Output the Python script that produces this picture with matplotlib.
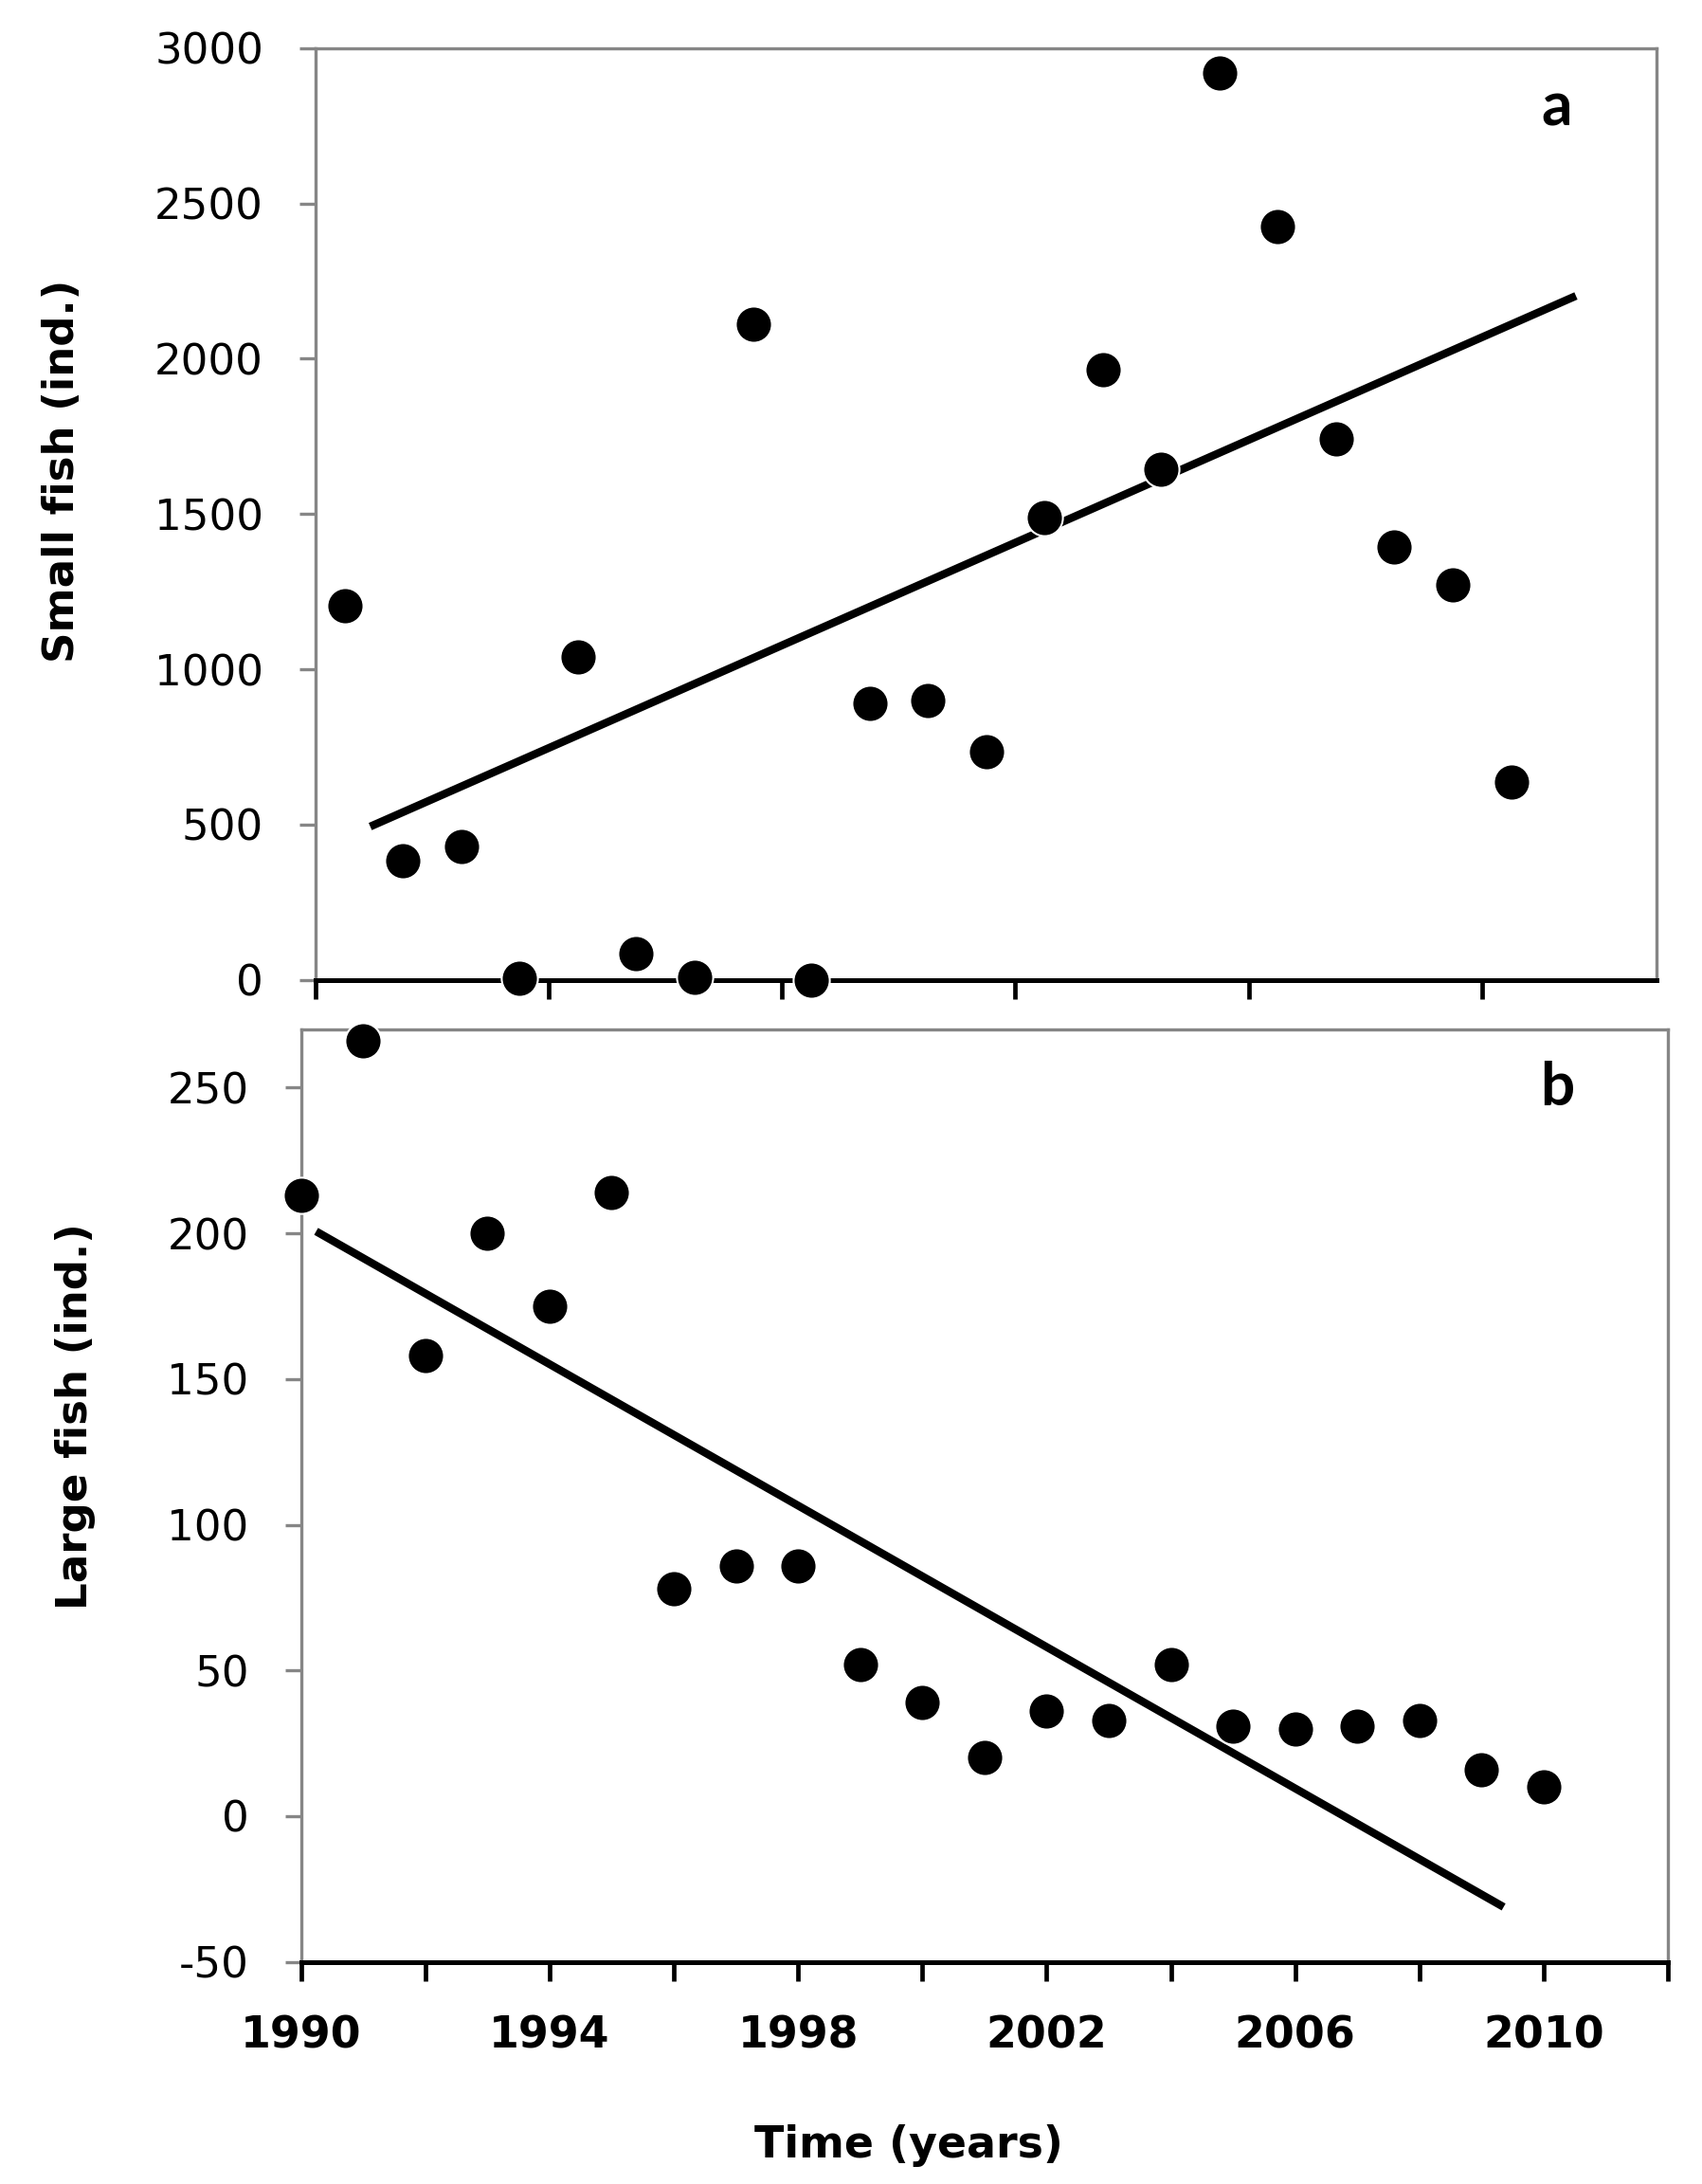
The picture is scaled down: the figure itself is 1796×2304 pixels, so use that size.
import numpy as np
import matplotlib
matplotlib.use("Agg")
from matplotlib import pyplot as plt

plt.rcParams['axes.unicode_minus'] = False
plt.rcParams['font.family'] = ['DejaVu Sans']

# data
years = list(range(1990, 2011))
small_fish = [1205, 385, 430, 6, 1040, 84, 9, 2110, 0, 889, 899, 734,
              1488, 1964, 1645, 2919, 2426, 1743, 1394, 1272, 636]
large_fish = [213, 266, 158, 200, 175, 214, 78, 86, 86, 52, 39, 20,
              36, 33, 52, 31, 30, 31, 33, 16, 10]

# fitted trend lines (end points)
small_trend_x = [1990.5, 2011.05]
small_trend_y = [499, 2197]
large_trend_x = [1990.3, 2009.3]
large_trend_y = [200, -30.5]

small_yticks = [0, 500, 1000, 1500, 2000, 2500, 3000]
large_yticks = [-50, 0, 50, 100, 150, 200, 250]
year_labels = [1990, 1994, 1998, 2002, 2006, 2010]

GRAY = '#868686'

fig = plt.figure(figsize=(17.96, 23.04), dpi=100)
ax1 = fig.add_axes([0.1854, 0.5513, 0.7881, 0.4267])
ax2 = fig.add_axes([0.1768, 0.1017, 0.8032, 0.4270])


def style_axes(ax):
    for side in ['left', 'top', 'right']:
        ax.spines[side].set_color(GRAY)
        ax.spines[side].set_linewidth(2.4)
    ax.spines['bottom'].set_color('black')
    ax.spines['bottom'].set_linewidth(3.6)
    ax.tick_params(axis='y', direction='out', length=12.5, width=2.4,
                   color=GRAY, labelsize=32.5, pad=27, labelcolor='black')
    ax.tick_params(axis='x', which='both', direction='out', length=14.5,
                   width=3.4, color='black')


# panel a
ax1.plot(years, small_fish, 'o', color='black', ms=27.5, mec='white', mew=1.5,
         clip_on=False, zorder=5)
ax1.plot(small_trend_x, small_trend_y, '-', color='black', lw=6, zorder=4)
ax1.set_xlim(1989.5, 2012.5)
ax1.set_ylim(0, 3000)
ax1.set_yticks(small_yticks)
ax1.set_xticks(np.arange(1989.5, 2012, 4))
ax1.set_xticklabels([])
style_axes(ax1)
ax1.set_ylabel('Small fish (ind.)', fontsize=32.5, fontweight='bold')
ax1.yaxis.label.set_va('center')
ax1.yaxis.set_label_coords(-0.1893, 0.5464)
ax1.text(0.9255, 0.9354, 'a', transform=ax1.transAxes, fontsize=46,
         fontweight='bold', family='Lato', ha='center', va='center')

# panel b
ax2.plot(years, large_fish, 'o', color='black', ms=27.5, mec='white', mew=1.5,
         clip_on=False, zorder=5)
ax2.plot(large_trend_x, large_trend_y, '-', color='black', lw=6, zorder=4)
ax2.set_xlim(1990, 2012)
ax2.set_ylim(-50, 270)
ax2.set_yticks(large_yticks)
ax2.set_xticks(year_labels)
ax2.set_xticks(np.arange(1992, 2013, 4), minor=True)
ax2.set_xticklabels([str(y) for y in year_labels], fontsize=33,
                    fontweight='bold')
style_axes(ax2)
ax2.tick_params(axis='x', which='major', pad=26)
ax2.set_ylabel('Large fish (ind.)', fontsize=32.5, fontweight='bold')
ax2.yaxis.label.set_va('center')
ax2.yaxis.set_label_coords(-0.1653, 0.5852)
ax2.set_xlabel('Time (years)', fontsize=33, fontweight='bold')
ax2.xaxis.label.set_va('center')
ax2.xaxis.set_label_coords(0.4447, -0.1975)
ax2.text(0.919, 0.937, 'b', transform=ax2.transAxes, fontsize=46,
         fontweight='bold', family='Lato', ha='center', va='center')

fig.savefig('out.png', dpi=100, facecolor='white')
